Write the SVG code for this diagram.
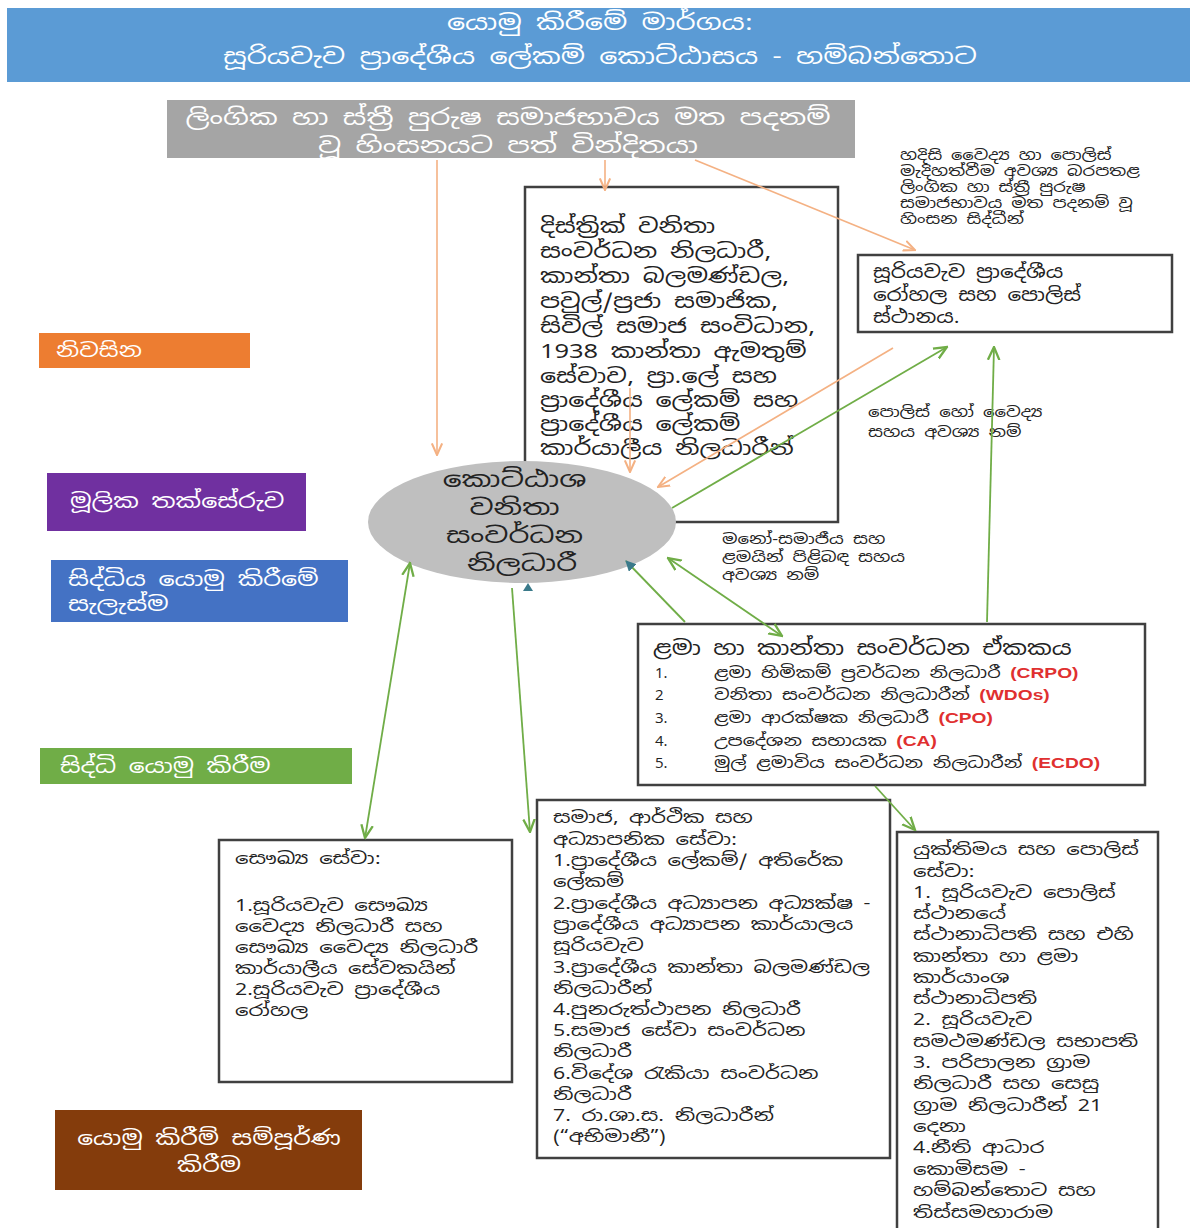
<svg xmlns="http://www.w3.org/2000/svg" width="1195" height="1228" viewBox="0 0 1195 1228">
<style>
text{font-family:"Noto Sans Sinhala","Iskoola Pota","Noto Sans","DejaVu Sans",sans-serif;}
.w{fill:#ffffff;}
.d{fill:#222222;}
.box{fill:#ffffff;stroke:#404040;stroke-width:2.5;}
.o{stroke:#f4b183;stroke-width:1.6;fill:none;}
.g{stroke:#70ad47;stroke-width:1.8;fill:none;}
.red{fill:#e03030;font-weight:bold;font-family:"Liberation Sans",Arial,sans-serif;}
</style>
<defs>
<marker id="ao" viewBox="0 0 10 10" refX="9" refY="5" markerWidth="8" markerHeight="8" orient="auto-start-reverse"><path d="M0,1 L9,5 L0,9" fill="none" stroke="#f4b183" stroke-width="1.6"/></marker>
<marker id="ag" viewBox="0 0 10 10" refX="9" refY="5" markerWidth="8" markerHeight="8" orient="auto-start-reverse"><path d="M0,1 L9,5 L0,9" fill="none" stroke="#70ad47" stroke-width="1.6"/></marker>
<marker id="at" viewBox="0 0 10 10" refX="9" refY="5" markerWidth="6" markerHeight="6" orient="auto-start-reverse"><path d="M0,0 L10,5 L0,10 Z" fill="#3a7a8a"/></marker>
</defs>
<rect width="1195" height="1228" fill="#ffffff"/>

<g id="title">
<rect x="7" y="8" width="1183" height="74" fill="#5b9bd5"/>
<g transform="matrix(1.3,0,0,1,-180,0)">
<text class="w" x="600" y="30" font-size="22" text-anchor="middle">යොමු කිරීමේ මාර්ගය:</text>
<text class="w" x="600" y="64" font-size="22" text-anchor="middle">සූරියවැව ප්‍රාදේශීය ලේකම් කොට්ඨාසය - හම්බන්තොට</text>
</g>
</g>

<g id="victim">
<rect x="167" y="100" width="688" height="58" fill="#a5a5a5"/>
<g transform="matrix(1.3,0,0,1,-152.4,0)">
<text class="w" x="508" y="125" font-size="22" text-anchor="middle">ලිංගික හා ස්ත්‍රී පුරුෂ සමාජභාවය මත පදනම්</text>
<text class="w" x="508" y="153" font-size="22" text-anchor="middle">වූ හිංසනයට පත් වින්දිතයා</text>
</g>
</g>

<g id="community">
<rect class="box" x="525" y="187" width="313" height="335"/>
<text class="d" font-size="20" transform="matrix(1.27,0,0,1,-145.8,0)">
<tspan x="540" y="233">දිස්ත්‍රික් වනිතා</tspan>
<tspan x="540" y="258">සංවර්ධන නිලධාරී,</tspan>
<tspan x="540" y="283">කාන්තා බලමණ්ඩල,</tspan>
<tspan x="540" y="308">පවුල්/ප්‍රජා සමාජික,</tspan>
<tspan x="540" y="333">සිවිල් සමාජ සංවිධාන,</tspan>
<tspan x="540" y="358">1938 කාන්තා ඇමතුම්</tspan>
<tspan x="540" y="383">සේවාව, ප්‍රා.ලේ සහ</tspan>
<tspan x="540" y="407">ප්‍රාදේශීය ලේකම් සහ</tspan>
<tspan x="540" y="431">ප්‍රාදේශීය ලේකම්</tspan>
<tspan x="540" y="455">කාර්යාලීය නිලධාරීන්</tspan>
</text>
</g>

<g id="note-serious">
<text class="d" font-size="14" transform="matrix(1.28,0,0,1,-252,0)">
<tspan x="900" y="160">හදිසි වෛද්‍ය හා පොලිස්</tspan>
<tspan x="900" y="176">මැදිහත්වීම අවශ්‍ය බරපතළ</tspan>
<tspan x="900" y="192">ලිංගික හා ස්ත්‍රී පුරුෂ</tspan>
<tspan x="900" y="208">සමාජභාවය මත පදනම් වූ</tspan>
<tspan x="900" y="224">හිංසන සිද්ධීන්</tspan>
</text>
</g>

<g id="hospital">
<rect class="box" x="858" y="255" width="314" height="77"/>
<text class="d" font-size="18" transform="matrix(1.2,0,0,1,-174.6,0)">
<tspan x="873" y="278">සූරියවැව ප්‍රාදේශීය</tspan>
<tspan x="873" y="301">රෝහල සහ පොලිස්</tspan>
<tspan x="873" y="323">ස්ථානය.</tspan>
</text>
</g>

<g id="label-police">
<text class="d" font-size="14" transform="matrix(1.3,0,0,1,-260.4,0)">
<tspan x="868" y="417">පොලිස් හෝ වෛද්‍ය</tspan>
<tspan x="868" y="437">සහය අවශ්‍ය නම්</tspan>
</text>
</g>

<g id="label-psycho">
<text class="d" font-size="14" transform="matrix(1.3,0,0,1,-216.6,0)">
<tspan x="722" y="544">මනෝ-සමාජීය සහ</tspan>
<tspan x="722" y="562">ළමයින් පිළිබඳ සහය</tspan>
<tspan x="722" y="580">අවශ්‍ය නම්</tspan>
</text>
</g>

<g id="wdo">
<ellipse cx="522" cy="522" rx="154" ry="61" fill="#bfbfbf"/>
<text class="d" font-size="22" text-anchor="middle" transform="matrix(1.35,0,0,1,-182.7,0)">
<tspan x="522" y="487">කොට්ඨාශ</tspan>
<tspan x="522" y="515">වනිතා</tspan>
<tspan x="522" y="543">සංවර්ධන</tspan>
<tspan x="522" y="571">නිලධාරී</tspan>
</text>
</g>

<g id="legend-home">
<rect x="39" y="333" width="211" height="35" fill="#ed7d31"/>
<text class="w" x="56" y="357" font-size="19" transform="matrix(1.27,0,0,1,-15.12,0)">නිවසින</text>
</g>
<g id="legend-assess">
<rect x="47" y="473" width="259" height="58" fill="#7030a0"/>
<text class="w" x="70" y="508" font-size="20" transform="matrix(1.27,0,0,1,-18.9,0)">මූලික තක්සේරුව</text>
</g>
<g id="legend-plan">
<rect x="51" y="560" width="297" height="62" fill="#4472c4"/>
<text class="w" font-size="20" transform="matrix(1.27,0,0,1,-18.36,0)"><tspan x="68" y="586">සිද්ධිය යොමු කිරීමේ</tspan><tspan x="68" y="611">සැලැස්ම</tspan></text>
</g>
<g id="legend-refer">
<rect x="40" y="748" width="312" height="36" fill="#70ad47"/>
<text class="w" x="60" y="773" font-size="20" transform="matrix(1.25,0,0,1,-15,0)">සිද්ධි යොමු කිරීම</text>
</g>
<g id="legend-complete">
<rect x="55" y="1110" width="307" height="80" fill="#843c0c"/>
<text class="w" font-size="20" text-anchor="middle" transform="matrix(1.25,0,0,1,-52.25,0)"><tspan x="209" y="1145">යොමු කිරීම් සම්පූර්ණ</tspan><tspan x="209" y="1172">කිරීම</tspan></text>
</g>

<g id="child-unit">
<rect class="box" x="638" y="624" width="507" height="161"/>
<text class="d" font-size="20" x="653" y="655" transform="matrix(1.23,0,0,1,-150.19,0)">ළමා හා කාන්තා සංවර්ධන ඒකකය</text>
<g class="d" font-size="15">
<text x="655" y="678">1.</text>
<text x="655" y="700">2</text>
<text x="655" y="723">3.</text>
<text x="655" y="746">4.</text>
<text x="655" y="768">5.</text>
</g>
<g class="d" font-size="15" transform="matrix(1.28,0,0,1,-199.92,0)">
<text x="714" y="678">ළමා හිමිකම් ප්‍රවර්ධන නිලධාරී <tspan class="red">(CRPO)</tspan></text>
<text x="714" y="700">වනිතා සංවර්ධන නිලධාරීන් <tspan class="red">(WDOs)</tspan></text>
<text x="714" y="723">ළමා ආරක්ෂක නිලධාරී <tspan class="red">(CPO)</tspan></text>
<text x="714" y="746">උපදේශන සහායක <tspan class="red">(CA)</tspan></text>
<text x="714" y="768">මුල් ළමාවිය සංවර්ධන නිලධාරීන් <tspan class="red">(ECDO)</tspan></text>
</g>
</g>

<g id="health">
<rect class="box" x="219" y="840" width="293" height="242"/>
<text class="d" font-size="16" transform="matrix(1.33,0,0,1,-77.55,0)">
<tspan x="235" y="864">සෞඛ්‍ය සේවා:</tspan>
<tspan x="235" y="911">1.සූරියවැව  සෞඛ්‍ය</tspan>
<tspan x="235" y="932">වෛද්‍ය නිලධාරී සහ</tspan>
<tspan x="235" y="953">සෞඛ්‍ය වෛද්‍ය නිලධාරී</tspan>
<tspan x="235" y="974">කාර්යාලීය සේවකයින්</tspan>
<tspan x="235" y="995">2.සූරියවැව ප්‍රාදේශීය</tspan>
<tspan x="235" y="1016">රෝහල</tspan>
</text>
</g>

<g id="social">
<rect class="box" x="537" y="800" width="353" height="358"/>
<text class="d" font-size="16" transform="matrix(1.33,0,0,1,-182.49,0)">
<tspan x="553" y="823">සමාජ, ආර්ථික සහ</tspan>
<tspan x="553" y="845">අධ්‍යාපනික සේවා:</tspan>
<tspan x="553" y="866">1.ප්‍රාදේශීය ලේකම්/ අතිරේක</tspan>
<tspan x="553" y="887">ලේකම්</tspan>
<tspan x="553" y="909">2.ප්‍රාදේශීය අධ්‍යාපන අධ්‍යක්ෂ -</tspan>
<tspan x="553" y="930">ප්‍රාදේශීය අධ්‍යාපන කාර්යාලය</tspan>
<tspan x="553" y="951">සූරියවැව</tspan>
<tspan x="553" y="973">3.ප්‍රාදේශීය කාන්තා බලමණ්ඩල</tspan>
<tspan x="553" y="994">නිලධාරීන්</tspan>
<tspan x="553" y="1015">4.පුනරුත්ථාපන නිලධාරී</tspan>
<tspan x="553" y="1036">5.සමාජ සේවා සංවර්ධන</tspan>
<tspan x="553" y="1057">නිලධාරී</tspan>
<tspan x="553" y="1079">6.විදේශ රැකියා සංවර්ධන</tspan>
<tspan x="553" y="1100">නිලධාරී</tspan>
<tspan x="553" y="1121">7. රා.ශා.ස. නිලධාරීන්</tspan>
<tspan x="553" y="1142">(“අභිමානී”)</tspan>
</text>
</g>

<g id="police">
<rect class="box" x="897" y="832" width="261" height="400"/>
<text class="d" font-size="16" transform="matrix(1.33,0,0,1,-301.29,0)">
<tspan x="913" y="855">යුක්තිමය සහ පොලිස්</tspan>
<tspan x="913" y="877">සේවා:</tspan>
<tspan x="913" y="898">1. සූරියවැව පොලිස්</tspan>
<tspan x="913" y="919">ස්ථානයේ</tspan>
<tspan x="913" y="940">ස්ථානාධිපති සහ එහි</tspan>
<tspan x="913" y="962">කාන්තා හා ළමා</tspan>
<tspan x="913" y="983">කාර්යාංශ</tspan>
<tspan x="913" y="1004">ස්ථානාධිපති</tspan>
<tspan x="913" y="1025">2. සූරියවැව</tspan>
<tspan x="913" y="1047">සමථමණ්ඩල සභාපති</tspan>
<tspan x="913" y="1068">3. පරිපාලන ග්‍රාම</tspan>
<tspan x="913" y="1089">නිලධාරී සහ සෙසු</tspan>
<tspan x="913" y="1111">ග්‍රාම නිලධාරීන් 21</tspan>
<tspan x="913" y="1132">දෙනා</tspan>
<tspan x="913" y="1153">4.නීති ආධාර</tspan>
<tspan x="913" y="1175">කොමිසම -</tspan>
<tspan x="913" y="1196">හම්බන්තොට සහ</tspan>
<tspan x="913" y="1218">තිස්සමහාරාම</tspan>
</text>
</g>

<g id="connectors">
<line class="o" x1="437" y1="160" x2="437" y2="455" marker-end="url(#ao)"/>
<line class="o" x1="605" y1="160" x2="605" y2="190" marker-end="url(#ao)"/>
<line class="o" x1="630" y1="388" x2="630" y2="472" marker-end="url(#ao)"/>
<line class="o" x1="695" y1="160" x2="915" y2="250" marker-end="url(#ao)"/>
<line class="o" x1="893" y1="348" x2="658" y2="487" marker-end="url(#ao)"/>
<line class="g" x1="672" y1="508" x2="947" y2="347" marker-end="url(#ag)"/>
<line class="g" x1="987" y1="622" x2="994" y2="347" marker-end="url(#ag)"/>
<line class="g" x1="668" y1="558" x2="782" y2="636" marker-start="url(#ag)" marker-end="url(#ag)"/>
<line class="g" x1="685" y1="622" x2="626" y2="561" marker-end="url(#at)"/>
<line class="g" x1="410" y1="563" x2="365" y2="838" marker-start="url(#ag)" marker-end="url(#ag)"/>
<line class="g" x1="512" y1="588" x2="530" y2="832" marker-end="url(#ag)"/>
<path d="M523,591 L528,583 L533,591 Z" fill="#3a7a8a"/>
<line class="g" x1="875" y1="786" x2="915" y2="830" marker-end="url(#ag)"/>
</g>
</svg>
